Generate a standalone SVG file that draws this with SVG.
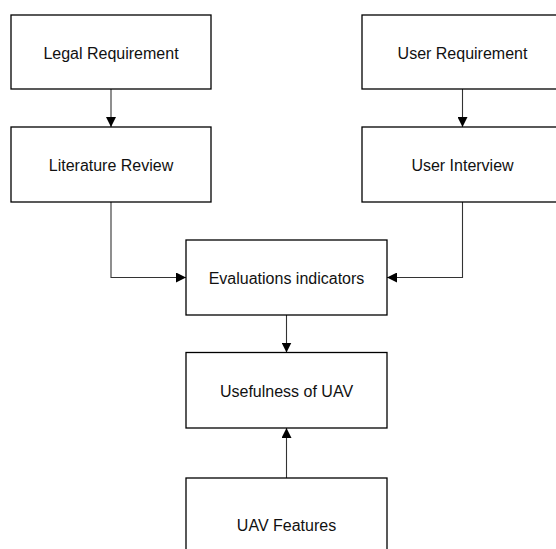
<svg xmlns="http://www.w3.org/2000/svg" width="556" height="549" viewBox="0 0 556 549">
  <style>
    .box { fill: #ffffff; stroke: #000000; stroke-width: 1.3; }
    .lbl { font-family: "Liberation Sans", Arial, sans-serif; font-size: 16px; fill: #111111; text-anchor: middle; }
    .wire { fill: none; stroke: #333333; stroke-width: 1.1; }
  </style>
  <defs>
    <marker id="tip" viewBox="0 0 10 10" refX="10" refY="5" markerWidth="10" markerHeight="10" markerUnits="userSpaceOnUse" orient="auto">
      <path d="M0,0 L10,5 L0,10 Z" fill="#000000"/>
    </marker>
  </defs>
  <rect width="556" height="549" fill="#ffffff"/>

  <g id="connectors">
    <line class="wire" x1="111" y1="89" x2="111" y2="127" marker-end="url(#tip)"/>
    <line class="wire" x1="462.5" y1="89" x2="462.5" y2="127" marker-end="url(#tip)"/>
    <polyline class="wire" points="111,202 111,277.5 186,277.5" marker-end="url(#tip)"/>
    <polyline class="wire" points="462.5,202 462.5,277.5 387,277.5" marker-end="url(#tip)"/>
    <line class="wire" x1="286.5" y1="315" x2="286.5" y2="352.5" marker-end="url(#tip)"/>
    <line class="wire" x1="286.5" y1="478" x2="286.5" y2="428" marker-end="url(#tip)"/>
  </g>

  <g id="legal-requirement">
    <rect class="box" x="11" y="15" width="200" height="74"/>
    <text class="lbl" x="111" y="58.5">Legal Requirement</text>
  </g>
  <g id="literature-review">
    <rect class="box" x="11" y="127" width="200" height="75"/>
    <text class="lbl" x="111" y="171">Literature Review</text>
  </g>
  <g id="user-requirement">
    <rect class="box" x="362" y="15" width="201" height="74"/>
    <text class="lbl" x="462.5" y="58.5">User Requirement</text>
  </g>
  <g id="user-interview">
    <rect class="box" x="362" y="127" width="201" height="75"/>
    <text class="lbl" x="462.5" y="171">User Interview</text>
  </g>
  <g id="evaluations-indicators">
    <rect class="box" x="186" y="240" width="201" height="75"/>
    <text class="lbl" x="286.5" y="283.5">Evaluations indicators</text>
  </g>
  <g id="usefulness-of-uav">
    <rect class="box" x="186" y="352.5" width="201" height="75.5"/>
    <text class="lbl" x="286.5" y="396.5">Usefulness of UAV</text>
  </g>
  <g id="uav-features">
    <rect class="box" x="186" y="478" width="201" height="95"/>
    <text class="lbl" x="286.5" y="530.5">UAV Features</text>
  </g>
</svg>
